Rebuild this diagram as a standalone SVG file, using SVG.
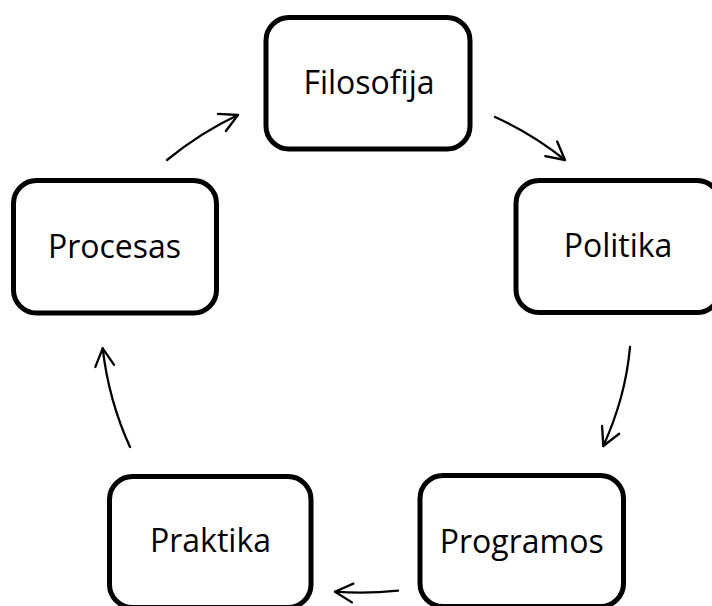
<svg xmlns="http://www.w3.org/2000/svg" width="712" height="606" viewBox="0 0 712 606">
  <defs>
    <style>
      .box { fill: #ffffff; stroke: #000000; stroke-width: 5; }
      .label { font-family: "Open Sans", "Liberation Sans", sans-serif; font-size: 32px; fill: #000000; text-anchor: middle; }
      .link { fill: none; stroke: #000000; stroke-width: 2.3; stroke-linecap: round; }
    </style>
    <marker id="open-head" markerUnits="userSpaceOnUse" orient="auto" refX="0" refY="0" markerWidth="24" markerHeight="24" overflow="visible">
      <path d="M -17.7 -9.4 L 0 0 L -17.7 9.4" fill="none" stroke="#000000" stroke-width="2.3" stroke-linecap="round" stroke-linejoin="round"/>
    </marker>
  </defs>

  <rect width="712" height="606" fill="#ffffff"/>

  <!-- cycle connectors -->
  <g id="connectors">
    <path class="link" d="M 167 160 Q 201.5 132 238 115" marker-end="url(#open-head)"/>
    <path class="link" d="M 495 117 Q 532.6 133.8 565 160" marker-end="url(#open-head)"/>
    <path class="link" d="M 630 347 Q 625.6 397 603.3 446" marker-end="url(#open-head)"/>
    <path class="link" d="M 398 590.7 Q 366 594 335 591.7" marker-end="url(#open-head)"/>
    <path class="link" d="M 130 447 Q 108.6 400 102.7 348.3" marker-end="url(#open-head)"/>
  </g>

  <g id="filosofija">
    <rect class="box" x="266" y="17.5" width="204" height="131.5" rx="23" ry="23"/>
    <text class="label" x="369" y="93.5">Filosofija</text>
  </g>

  <g id="politika">
    <rect class="box" x="516" y="180.5" width="204" height="132" rx="23" ry="23"/>
    <text class="label" x="618" y="257">Politika</text>
  </g>

  <g id="procesas">
    <rect class="box" x="13.5" y="180.5" width="203" height="132.5" rx="23" ry="23"/>
    <text class="label" x="114.5" y="258">Procesas</text>
  </g>

  <g id="programos">
    <rect class="box" x="420" y="475.5" width="203.5" height="131" rx="23" ry="23"/>
    <text class="label" x="521.7" y="553">Programos</text>
  </g>

  <g id="praktika">
    <rect class="box" x="109.5" y="476.5" width="201.5" height="131" rx="23" ry="23"/>
    <text class="label" x="210.5" y="552">Praktika</text>
  </g>
</svg>
